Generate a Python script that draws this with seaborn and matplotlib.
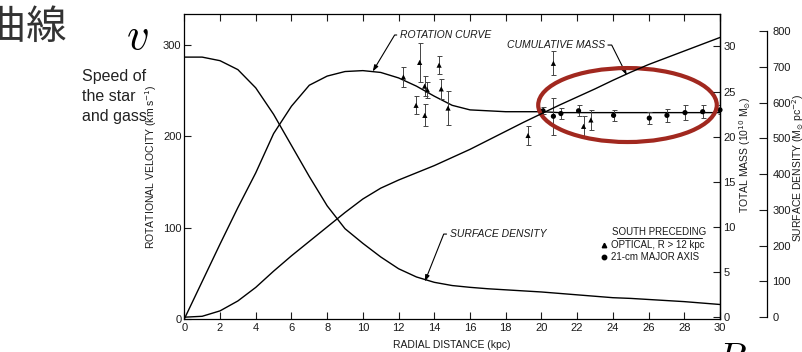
import matplotlib
matplotlib.use('Agg')
import matplotlib.pyplot as plt
import seaborn as sns
import numpy as np
from matplotlib.patches import Ellipse
from matplotlib.lines import Line2D
from matplotlib import font_manager

# --- curves, radius in kpc ---
radius = [0, 1, 2, 3, 4, 5, 6, 7, 8, 9, 10, 11, 12, 13, 14, 15,
          16, 17, 18, 19, 20, 21, 22, 23, 24, 25, 26, 27, 28, 29, 30]
rot_curve = [0, 41, 82, 122, 160, 203, 233, 256, 266, 271, 272, 270, 264, 255, 244, 234,
             229, 228, 227, 227, 227, 226, 226, 226, 226, 226, 226, 226, 226, 226, 226]
cum_mass = [0, 0.1, 0.7, 1.8, 3.3, 5.1, 6.8, 8.4, 10.0, 11.6, 13.1, 14.3, 15.2, 16.0, 16.8, 17.7,
            18.6, 19.6, 20.6, 21.6, 22.55, 23.5, 24.4, 25.3, 26.25, 27.15, 28.0, 28.75, 29.5, 30.25, 31.0]
surf_dens = [727, 727, 717, 692, 641, 567, 480, 393, 311, 247, 206, 168, 135, 112, 97, 88,
             83, 79, 76, 73, 70, 66, 62, 58, 54, 52, 49, 46, 43, 39, 35]

# --- observed points ---
opt_r = [12.27, 12.98, 13.18, 13.46, 13.47, 13.61, 14.27, 14.39, 14.77, 19.25, 20.67, 22.36, 22.77]
opt_v = [265, 234, 281, 255, 223, 251, 278, 252, 231, 201, 280, 211, 218]
opt_err = [11, 10, 21, 11, 12, 9, 10, 11, 19, 10, 13, 11, 11]
hi_r = [20.09, 20.67, 21.09, 22.08, 24.04, 26.04, 27.03, 28.04, 29.03, 30.0]
hi_v = [228, 222, 225, 228, 223, 220, 223, 226, 227, 229]
hi_err = [4, 20, 6, 6, 6, 7, 7, 8, 7, 5]

vel_ticks = [0, 100, 200, 300]
dist_ticks = [0, 2, 4, 6, 8, 10, 12, 14, 16, 18, 20, 22, 24, 26, 28, 30]
mass_ticks = [0, 5, 10, 15, 20, 25, 30]
dens_ticks = [0, 100, 200, 300, 400, 500, 600, 700, 800]


def pick(*names):
    for n in names:
        try:
            font_manager.findfont(font_manager.FontProperties(family=n), fallback_to_default=False)
            return n
        except ValueError:
            pass
    return 'DejaVu Sans'


sns.set_style('ticks')
narrow = pick('Liberation Sans Narrow', 'Liberation Sans')
plt.rcParams['font.family'] = [narrow, 'DejaVu Sans']
plt.rcParams['axes.linewidth'] = 0.9
ink = '#1a1a1a'
fs = 9 if narrow == 'Liberation Sans Narrow' else 8

W, H = 802, 352
fig = plt.figure(figsize=(8.02, 3.52), dpi=100)
fig.patch.set_facecolor('white')


def px(x, y):
    return x / W, 1 - y / H


ax = fig.add_axes([184.3 / W, 1 - 319 / H, (720 - 184.3) / W, (319 - 14) / H])
ax_m = ax.twinx()
ax_s = ax.twinx()

# curves
sns.lineplot(x=radius, y=rot_curve, ax=ax, color='k', lw=1.0)
sns.lineplot(x=radius, y=cum_mass, ax=ax_m, color='k', lw=1.0)
sns.lineplot(x=radius, y=surf_dens, ax=ax_s, color='k', lw=1.0)

# data points
ax.errorbar(opt_r, opt_v, yerr=opt_err, fmt='none', ecolor='#444444', elinewidth=0.7, capsize=1.8, capthick=0.7)
ax.errorbar(hi_r, hi_v, yerr=hi_err, fmt='none', ecolor='#444444', elinewidth=0.7, capsize=1.8, capthick=0.7)
sns.scatterplot(x=opt_r, y=opt_v, ax=ax, marker='^', s=14, color='k', edgecolor='none', zorder=4)
sns.scatterplot(x=hi_r, y=hi_v, ax=ax, marker='o', s=14, color='k', edgecolor='none', zorder=4, clip_on=False)

ax.set_xlim(0, 30)
ax.set_ylim(0, 334)
ax_m.set_ylim(-0.2, 33.6)
ax_s.set_ylim(-5.6, 847.6)

ax.set_xticks(dist_ticks)
ax.set_yticks(vel_ticks)
ax.tick_params(axis='x', direction='in', top=True, length=5, width=0.8, pad=3, labelsize=fs, colors=ink)
ax.tick_params(axis='y', direction='in', right=False, length=5, width=0.8, pad=2, labelsize=fs, colors=ink)
ax.set_xlabel('RADIAL DISTANCE (kpc)', fontsize=fs - 0.5, color=ink, labelpad=5)
ax.set_ylabel(r'ROTATIONAL VELOCITY (km s$^{-1}$)', fontsize=fs - 0.5, color=ink, labelpad=3)

ax_m.set_yticks(mass_ticks)
ax_m.tick_params(axis='y', direction='in', length=5, width=0.8, pad=2.5, labelsize=fs, colors=ink)
for s in ['left', 'top', 'bottom']:
    ax_m.spines[s].set_visible(False)

ax_s.spines['right'].set_position(('axes', (767 - 184.3) / (720 - 184.3)))
ax_s.spines['right'].set_bounds(0, 800)
for s in ['left', 'top', 'bottom']:
    ax_s.spines[s].set_visible(False)
ax_s.set_yticks(dens_ticks)
ax_s.tick_params(axis='y', direction='in', length=6, width=0.8, pad=4, labelsize=fs, colors=ink)

for a in (ax, ax_m, ax_s):
    for sp in a.spines.values():
        sp.set_color('k')

fig.text(*px(745, 155), r'TOTAL MASS (10$^{10}$ M$_{\odot}$)', rotation=90, ha='center', va='center',
         fontsize=fs - 0.5, color=ink)
fig.text(*px(798, 168), r'SURFACE DENSITY (M$_{\odot}$ pc$^{-2}$)', rotation=90, ha='center', va='center',
         fontsize=fs - 0.5, color=ink)

# curve annotations with leaders
head = '-|>,head_length=0.5,head_width=0.17'
ax.annotate('ROTATION CURVE', xy=(10.55, 271), xytext=(12.08, 311), ha='left', va='center',
            fontstyle='italic', fontsize=fs - 0.5, color=ink,
            arrowprops=dict(arrowstyle=head, color='k', lw=0.8, relpos=(0, 0.5), shrinkA=0, shrinkB=0,
                            connectionstyle='angle,angleA=0,angleB=59,rad=0'))
ax.annotate('CUMULATIVE MASS', xy=(24.78, 267), xytext=(23.54, 300), ha='right', va='center',
            fontstyle='italic', fontsize=fs - 0.5, color=ink,
            arrowprops=dict(arrowstyle=head, color='k', lw=0.8, relpos=(1, 0.5), shrinkA=0, shrinkB=0,
                            connectionstyle='angle,angleA=0,angleB=116.6,rad=0'))
ax.annotate('SURFACE DENSITY', xy=(13.47, 41), xytext=(14.87, 93), ha='left', va='center',
            fontstyle='italic', fontsize=fs - 0.5, color=ink,
            arrowprops=dict(arrowstyle=head, color='k', lw=0.8, relpos=(0, 0.5), shrinkA=0, shrinkB=0,
                            connectionstyle='angle,angleA=0,angleB=68.3,rad=0'))

# legend block
fig.text(*px(659, 232), 'SOUTH PRECEDING', ha='center', va='center', fontsize=fs - 1, color=ink)
fig.add_artist(Line2D([616.7 / W, 701.7 / W], [1 - 237.5 / H, 1 - 237.5 / H], color=ink, lw=0.7))
handles = [Line2D([], [], marker='^', ls='', color='k', ms=3.2),
           Line2D([], [], marker='o', ls='', color='k', ms=3.2)]
ax.legend(handles, ['OPTICAL, R > 12 kpc', '21-cm MAJOR AXIS'], loc='upper left',
          bbox_to_anchor=((602 - 184.3) / 535.7, (319 - 240) / 305), frameon=False,
          handlelength=0.5, handletextpad=0.4, borderpad=0, borderaxespad=0, labelspacing=0.2,
          fontsize=fs - 1, labelcolor=ink)

# highlight
ax.add_patch(Ellipse((24.82, 234.3), 10.0, 81, fill=False, ec='#a1281f', lw=3.0, clip_on=False, zorder=6))

# slide text around the figure
fig.text(*px(67, 27), '曲線', ha='right', va='center', fontsize=29, color='#333333',
         family=['Noto Sans CJK JP', 'DejaVu Sans'])
fig.text(*px(82, 69), 'Speed of\nthe star\nand gass', ha='left', va='top', fontsize=11.5,
         color='#222222', family=['Liberation Sans', 'DejaVu Sans'], linespacing=1.4)
fig.text(*px(137, 38), '$v$', ha='center', va='center', fontsize=32, math_fontfamily='cm', color='k')
fig.text(*px(716, 342), '$R$', ha='left', va='top', fontsize=28, math_fontfamily='cm', color='k')

fig.savefig('out.png', dpi=100, facecolor='white')
